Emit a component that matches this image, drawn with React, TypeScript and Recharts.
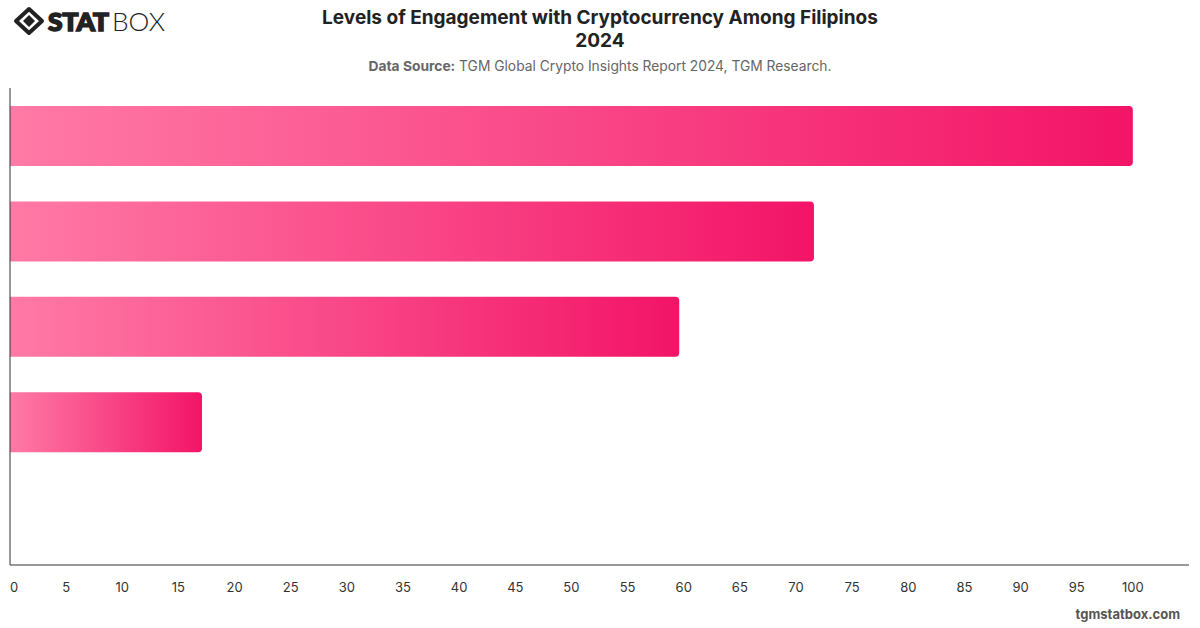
import React from 'react';
import { BarChart, Bar, XAxis, YAxis } from 'recharts';

// engagement levels, top to bottom (last slot left empty)
const levels = ['Heard of Crypto', 'Know How It Works', 'Have Owned Crypto', 'Currently Own Crypto', ''];
const shares: (number | null)[] = [100, 71.6, 59.6, 17.1, null];
const xTicks = [0, 5, 10, 15, 20, 25, 30, 35, 40, 45, 50, 55, 60, 65, 70, 75, 80, 85, 90, 95, 100];

const data = levels.map((name, i) => ({ name, value: shares[i] }));

const FONT = 'Inter, "Liberation Sans", Arial, sans-serif';

function Tick(props: any) {
  const { x, y, payload } = props;
  const nudge = payload.value === 0 ? 4 : 0;
  return (
    <text x={x + nudge} y={y} dy="0.71em" textAnchor="middle" fontSize={13} fill="#333" fontFamily={FONT}>
      {payload.value}
    </text>
  );
}

function Logo() {
  return (
    <svg width={180} height={44} style={{ position: 'absolute', left: 0, top: 0 }}>
      <g transform="translate(29,21)">
        <path d="M0,-12 L13,0 L0,12 L-13,0 Z" fill="none" stroke="#222" strokeWidth={4} strokeLinejoin="round" />
        <path d="M0,-6 L6,0 L0,6 L-6,0 Z" fill="#222" />
      </g>
      <text
        x={48}
        y={31}
        fontFamily='Lato, "DejaVu Sans", sans-serif'
        fontWeight={900}
        fontSize={25}
        fill="#222"
        stroke="#222"
        strokeWidth={1.6}
        textLength={61}
        lengthAdjust="spacingAndGlyphs"
      >
        STAT
      </text>
      <text x={112} y={31} fontFamily='Lato, "DejaVu Sans", sans-serif' fontWeight={300} fontSize={25} fill="#222" textLength={53} lengthAdjust="spacingAndGlyphs">
        BOX
      </text>
    </svg>
  );
}

export default function App() {
  return (
    <div style={{ position: 'fixed', left: 0, top: 0, width: 1200, height: 628, background: '#fff', fontFamily: FONT }}>
      <Logo />
      <div style={{ position: 'absolute', left: 0, top: 6, width: 1200, textAlign: 'center', color: '#222', fontWeight: 700, fontSize: 19, lineHeight: '23px' }}>
        Levels of Engagement with Cryptocurrency Among Filipinos
        <br />
        2024
      </div>
      <div style={{ position: 'absolute', left: 0, top: 58, width: 1200, textAlign: 'center', color: '#666', fontSize: 13.8 }}>
        <b>Data Source:</b> TGM Global Crypto Insights Report 2024, TGM Research.
      </div>
      <div style={{ position: 'absolute', left: 0, top: 0 }}>
        <BarChart width={1200} height={628} data={data} layout="vertical" margin={{ top: 88, right: 11, bottom: 23, left: 9 }}>
          <defs>
            <linearGradient id="pinkFade" x1="0" y1="0" x2="1" y2="0">
              <stop offset="0%" stopColor="#ff7aa6" />
              <stop offset="100%" stopColor="#f31467" />
            </linearGradient>
          </defs>
          <XAxis
            type="number"
            domain={[0, 105]}
            ticks={xTicks}
            interval={0}
            height={40}
            axisLine={{ stroke: '#333' }}
            tickLine={false}
            tickMargin={12}
            tick={<Tick />}
          />
          <YAxis type="category" dataKey="name" width={1} tick={false} tickLine={false} axisLine={{ stroke: '#333' }} />
          <Bar dataKey="value" barSize={60} fill="url(#pinkFade)" radius={[0, 4, 4, 0]} isAnimationActive={false} />
        </BarChart>
      </div>
      <div style={{ position: 'absolute', right: 20, top: 606, color: '#555', fontWeight: 700, fontSize: 13 }}>tgmstatbox.com</div>
    </div>
  );
}
